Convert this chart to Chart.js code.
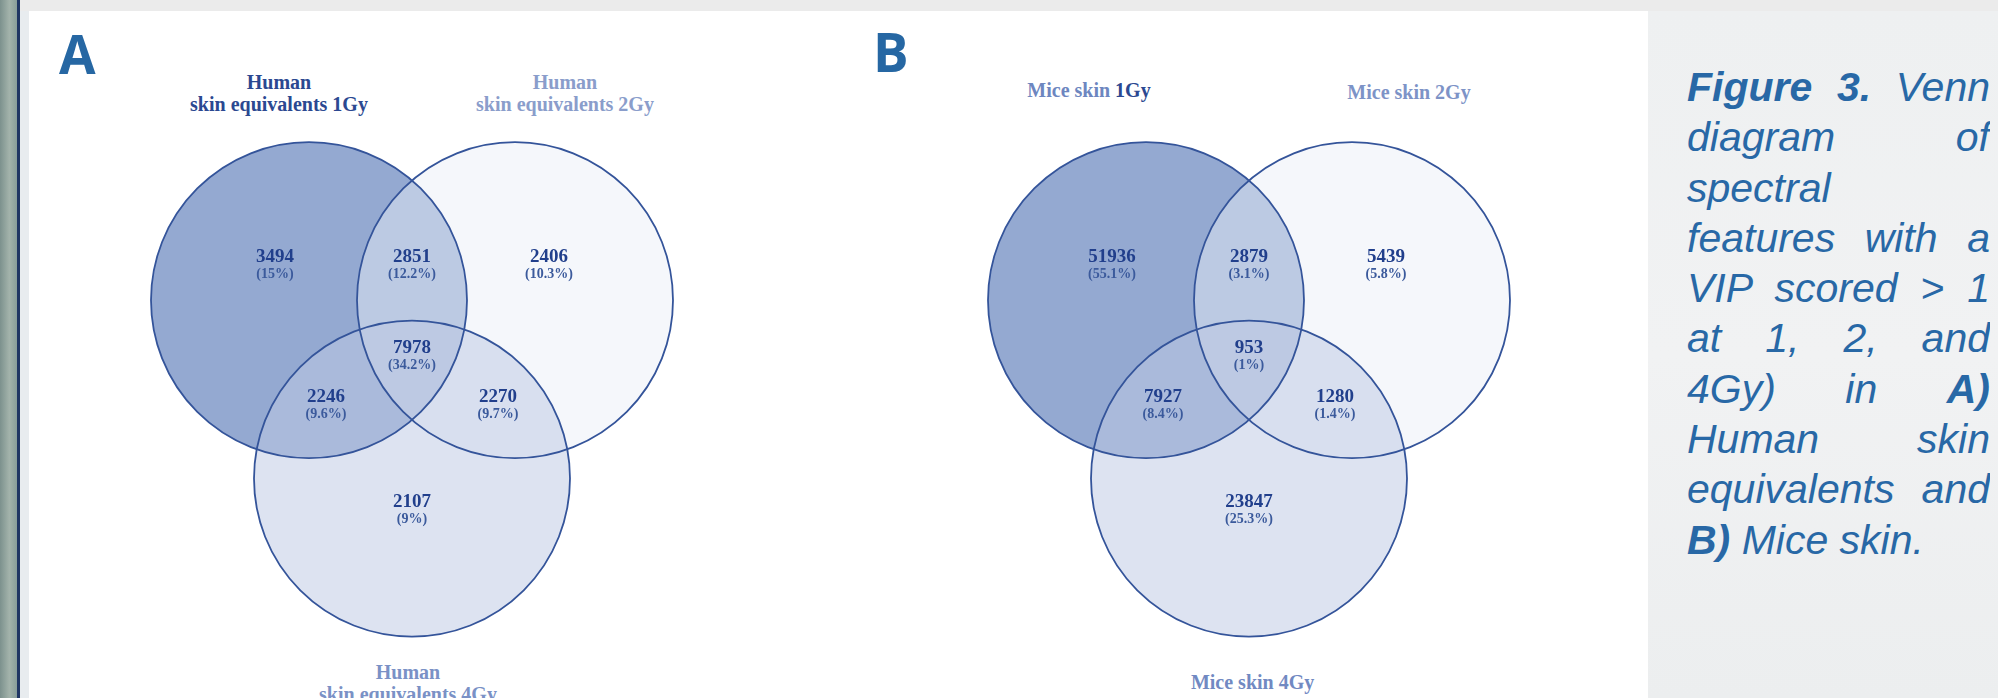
<!DOCTYPE html>
<html>
<head>
<meta charset="utf-8">
<script src="https://cdn.jsdelivr.net/npm/chart.js@4.4.1/dist/chart.umd.min.js"></script>
<style>
html,body{margin:0;padding:0;}
body{width:1998px;height:698px;position:relative;overflow:hidden;background:#eef0f1;}
#topbar{position:absolute;left:0;top:0;width:1998px;height:11px;background:#ebebeb;}
#leftstrip{position:absolute;left:0;top:0;width:17px;height:698px;background:linear-gradient(to right,#7c918d,#a3b3ab 55%,#889d99);}
#navyline{position:absolute;left:17px;top:0;width:3px;height:698px;background:#1f3563;}
#lightstrip{position:absolute;left:20px;top:11px;width:9px;height:687px;background:#e8ecef;}
#panel{position:absolute;left:29px;top:11px;width:1619px;height:687px;background:#ffffff;}
#rightbg{position:absolute;left:1648px;top:11px;width:350px;height:687px;background:linear-gradient(to bottom,#eef0f1,#f1f2f3 50%,#eceeef);}
.panelLetter{position:absolute;font-family:"Open Sans","DejaVu Sans",sans-serif;font-weight:700;font-size:53px;line-height:53px;color:#2667a3;}
.setTitle{position:absolute;width:260px;text-align:center;font-family:"Liberation Serif","Times New Roman",serif;font-weight:700;font-size:20px;line-height:22px;white-space:pre-line;}
.dk{color:#2b4891;}
canvas{position:absolute;}
#caption{position:absolute;left:1687px;top:62px;width:303px;font-family:"Liberation Sans",Arial,sans-serif;font-style:italic;font-size:41px;color:#2868a6;}
#caption div{height:50.3px;line-height:50.3px;white-space:nowrap;}
#caption .j{text-align:justify;text-align-last:justify;white-space:normal;overflow:hidden;}
#caption .l{text-align:left;}
</style>
</head>
<body>
<div id="topbar"></div>
<div id="leftstrip"></div>
<div id="navyline"></div>
<div id="lightstrip"></div>
<div id="panel"></div>
<div id="rightbg"></div>

<div class="panelLetter" style="left:59px;top:27px;">A</div>
<div class="panelLetter" style="left:873px;top:25px;">B</div>

<div id="titles"></div>

<canvas id="vennA" width="600" height="540" style="left:112px;top:120px;"></canvas>
<canvas id="vennB" width="600" height="540" style="left:949px;top:120px;"></canvas>

<div id="caption">
  <div class="j"><b>Figure 3.</b> Venn</div>
  <div class="j">diagram of</div>
  <div class="l">spectral</div>
  <div class="j">features with a</div>
  <div class="j">VIP scored &gt; 1</div>
  <div class="j">at 1, 2, and</div>
  <div class="j">4Gy) in <b>A)</b></div>
  <div class="j">Human skin</div>
  <div class="j">equivalents and</div>
  <div class="l"><b>B)</b> Mice skin.</div>
</div>

<script>
// ---------------- DATA ----------------
// region order: only 1Gy, only 2Gy, only 4Gy, 1Gy∩2Gy, 1Gy∩4Gy, 2Gy∩4Gy, all three
const regionKeys = ['1', '2', '4', '1&2', '1&4', '2&4', '1&2&4'];

const setNamesA = ['Human\nskin equivalents 1Gy', 'Human\nskin equivalents 2Gy', 'Human\nskin equivalents 4Gy'];
const countsA   = [3494, 2406, 2107, 2851, 2246, 2270, 7978];
const percentsA = ['15%', '10.3%', '9%', '12.2%', '9.6%', '9.7%', '34.2%'];

const setNamesB = ['Mice skin 1Gy', 'Mice skin 2Gy', 'Mice skin 4Gy'];
const countsB   = [51936, 5439, 23847, 2879, 7927, 1280, 953];
const percentsB = ['55.1%', '5.8%', '25.3%', '3.1%', '8.4%', '1.4%', '1%'];

// ---------------- LAYOUT (diagram units) ----------------
const circleCenters = [[-1, 0], [1, 0], [0, -1.732]];
const circleR = 1.534;
const labelAnchors = [[-1.33, 0.422], [1.33, 0.422], [0, -1.956], [0, 0.422], [-0.835, -0.937], [0.835, -0.937], [0, -0.464]];
const PX_PER_UNIT = 103, CANVAS_W = 600, CANVAS_H = 540, TOP_UNITS = 1.7495;

// ---------------- STYLE ----------------
const circleFills = ['rgba(31,75,159,0.48)', 'rgba(234,238,247,0.47)', 'rgba(189,202,228,0.52)'];
const outlineColor = '#34549a';

// ---------------- TITLES (HTML text) ----------------
const titleSpecs = [
  {text: setNamesA[0], cx: 279, top: 71.2, color: '#2b4891'},
  {text: setNamesA[1], cx: 565, top: 71.2, color: '#8a9dcb'},
  {text: setNamesA[2], cx: 408, top: 661.2, color: '#7a91c6'},
  {text: setNamesB[0], cx: 1089, top: 79, color: '#6d86c0', darkDose: true},
  {text: setNamesB[1], cx: 1409, top: 81.2, color: '#7d93c7'},
  {text: setNamesB[2], cx: 1252.6, top: 671.2, color: '#7189c2'}
];
const titlesEl = document.getElementById('titles');
titleSpecs.forEach(t => {
  const d = document.createElement('div');
  d.className = 'setTitle';
  d.style.left = (t.cx - 130) + 'px';
  d.style.top = t.top + 'px';
  d.style.color = t.color;
  if (t.darkDose) {
    const m = t.text.match(/^(.*?)(\d+Gy)$/);
    d.appendChild(document.createTextNode(m[1]));
    const s = document.createElement('span'); s.className = 'dk'; s.textContent = m[2];
    d.appendChild(s);
  } else {
    d.textContent = t.text;
  }
  titlesEl.appendChild(d);
});

// ---------------- CHART ----------------
const regionLabels = {
  id: 'regionLabels',
  afterDatasetsDraw(chart, args, opts) {
    const {ctx} = chart;
    const xs = chart.scales.x, ys = chart.scales.y;
    ctx.save();
    ctx.textAlign = 'center';
    ctx.textBaseline = 'middle';
    opts.counts.forEach((c, i) => {
      const px = xs.getPixelForValue(labelAnchors[i][0]);
      const py = ys.getPixelForValue(labelAnchors[i][1]);
      ctx.font = 'bold 19px "Liberation Serif", serif';
      ctx.fillStyle = '#213f8c';
      ctx.fillText(String(c), px, py);
      ctx.font = 'bold 14px "Liberation Serif", serif';
      ctx.fillStyle = '#3b5a9c';
      ctx.fillText('(' + opts.percents[i] + ')', px, py + 17.5);
    });
    ctx.restore();
  }
};

function radiusPx(ctx) {
  const s = ctx.chart.scales.x;
  const v = Math.abs(s.getPixelForValue(circleR) - s.getPixelForValue(0));
  return isFinite(v) ? v : 0;
}

function makeVenn(id, names, counts, percents) {
  const datasets = [];
  circleCenters.forEach((c, i) => {
    datasets.push({
      label: names[i].replace('\n', ' '),
      data: [{x: c[0], y: c[1]}],
      pointBackgroundColor: circleFills[i],
      pointBorderWidth: 0,
      pointBorderColor: 'rgba(0,0,0,0)',
      pointRadius: radiusPx,
      pointHoverRadius: radiusPx,
      showLine: false,
      order: 10 - i,
      clip: false
    });
  });
  circleCenters.forEach((c, i) => {
    datasets.push({
      label: names[i].replace('\n', ' ') + ' outline',
      data: [{x: c[0], y: c[1]}],
      pointBackgroundColor: 'rgba(0,0,0,0)',
      pointBorderColor: outlineColor,
      pointBorderWidth: 1.8,
      pointRadius: radiusPx,
      pointHoverRadius: radiusPx,
      showLine: false,
      order: 0,
      clip: false
    });
  });
  const halfW = CANVAS_W / 2 / PX_PER_UNIT;
  new Chart(document.getElementById(id), {
    type: 'scatter',
    data: {datasets},
    options: {
      responsive: false,
      animation: false,
      events: [],
      layout: {padding: 0},
      plugins: {
        legend: {display: false},
        tooltip: {enabled: false},
        regionLabels: {counts, percents}
      },
      scales: {
        x: {type: 'linear', min: -halfW, max: halfW, display: false},
        y: {type: 'linear', min: TOP_UNITS - CANVAS_H / PX_PER_UNIT, max: TOP_UNITS, display: false}
      }
    },
    plugins: [regionLabels]
  });
}

makeVenn('vennA', setNamesA, countsA, percentsA);
makeVenn('vennB', setNamesB, countsB, percentsB);
</script>
</body>
</html>
